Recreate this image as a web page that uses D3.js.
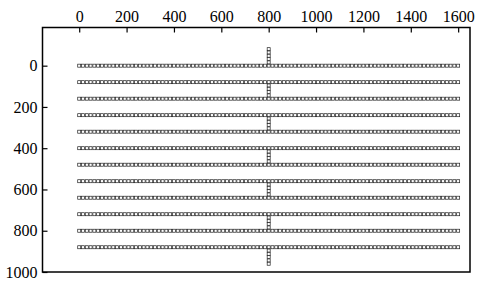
<!DOCTYPE html>
<html>
<head>
<meta charset="utf-8">
<script src="https://cdn.jsdelivr.net/npm/d3@7"></script>
<style>
  body { margin: 0; background: #fff; }
</style>
</head>
<body>
<div id="chart"></div>
<script>
// tick labels
var xTicks = [0, 200, 400, 600, 800, 1000, 1200, 1400, 1600];
var yTicks = [0, 200, 400, 600, 800, 1000];

// horizontal rows of nodes (y value of each row)
var rowY = [0, 80, 160, 240, 320, 400, 480, 560, 640, 720, 800, 880];

// x positions of the nodes along every row
var rowX = [0, 16, 32, 48, 64, 80, 96, 112, 128, 144, 160, 176, 192, 208, 224, 240,
  256, 272, 288, 304, 320, 336, 352, 368, 384, 400, 416, 432, 448, 464, 480, 496,
  512, 528, 544, 560, 576, 592, 608, 624, 640, 656, 672, 688, 704, 720, 736, 752,
  768, 784, 800, 816, 832, 848, 864, 880, 896, 912, 928, 944, 960, 976, 992, 1008,
  1024, 1040, 1056, 1072, 1088, 1104, 1120, 1136, 1152, 1168, 1184, 1200, 1216,
  1232, 1248, 1264, 1280, 1296, 1312, 1328, 1344, 1360, 1376, 1392, 1408, 1424,
  1440, 1456, 1472, 1488, 1504, 1520, 1536, 1552, 1568, 1584, 1600];

// vertical connector nodes at x = 800
var colX = 800;
var colY = [-80, -64, -48, -32, -16,
  96, 112, 128, 144,
  256, 272, 288, 304,
  416, 432, 448, 464,
  576, 592, 608, 624,
  736, 752, 768, 784,
  896, 912, 928, 944, 960];

var svgWidth = 482, svgHeight = 290;
var box = { left: 42.5, right: 470, top: 27.5, bottom: 272 };

var svg = d3.select("#chart").append("svg")
  .attr("width", svgWidth)
  .attr("height", svgHeight);

var x = d3.scaleLinear().domain([-155, 1650]).range([box.left, box.right]);
var y = d3.scaleLinear().domain([-185, 1000]).range([box.top, box.bottom]);

// nodes
var pts = [];
rowY.forEach(function(ry) {
  rowX.forEach(function(rx) { pts.push([rx, ry]); });
});
colY.forEach(function(cy) { pts.push([colX, cy]); });

var s = 3;
svg.append("g").selectAll("rect")
  .data(pts)
  .enter()
  .append("rect")
  .attr("x", d => x(d[0]) - s / 2)
  .attr("y", d => y(d[1]) - s / 2)
  .attr("width", s)
  .attr("height", s)
  .attr("fill", "#fff")
  .attr("stroke", "#222")
  .attr("stroke-width", 0.7);

// axes
var topAxis = d3.axisTop(x).tickValues(xTicks).tickFormat(d3.format("d"))
  .tickSizeInner(-5).tickSizeOuter(0).tickPadding(6);
var leftAxis = d3.axisLeft(y).tickValues(yTicks).tickFormat(d3.format("d"))
  .tickSizeInner(-5).tickSizeOuter(0).tickPadding(5);

var gx = svg.append("g").attr("transform", `translate(0, ${box.top})`).call(topAxis);
var gy = svg.append("g").attr("transform", `translate(${box.left}, 0)`).call(leftAxis);
[gx, gy].forEach(function(g) {
  g.attr("font-family", "'Liberation Serif', 'Times New Roman', serif").attr("font-size", 16);
  g.select(".domain").remove();
  g.selectAll(".tick line").attr("stroke", "#000").attr("stroke-width", 1.2);
  g.selectAll(".tick text").attr("fill", "#000");
});

// frame
svg.append("rect")
  .attr("x", box.left)
  .attr("y", box.top)
  .attr("width", box.right - box.left)
  .attr("height", box.bottom - box.top)
  .attr("fill", "none")
  .attr("stroke", "#000")
  .attr("stroke-width", 1.5);
</script>
</body>
</html>
